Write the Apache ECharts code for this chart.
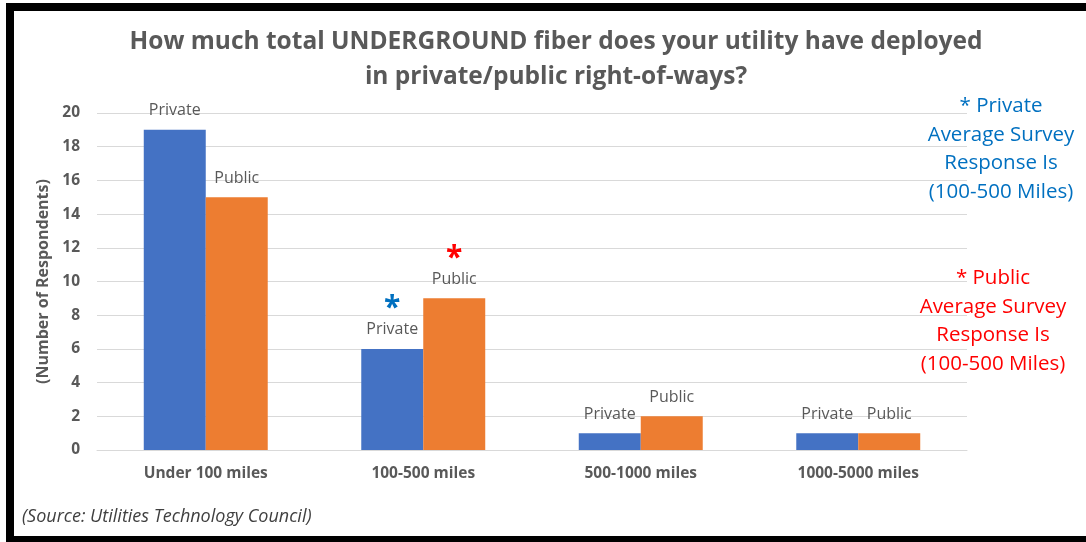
<!DOCTYPE html>
<html>
<head>
<meta charset="utf-8">
<script src="https://cdn.jsdelivr.net/npm/echarts@6/dist/echarts.min.js"></script>
<style>
  html, body { margin: 0; padding: 0; background: #fff; overflow: hidden; }
  #chart { width: 1086px; height: 542px; }
</style>
</head>
<body>
<div id="chart"></div>
<script>
// Deployment bands
const categories = ['Under 100 miles', '100-500 miles', '500-1000 miles', '1000-5000 miles'];
// Respondent counts
const privateValues = [19, 6, 1, 1];
const publicValues = [15, 9, 2, 1];
// Y axis ticks
const yTicks = [0, 2, 4, 6, 8, 10, 12, 14, 16, 18, 20];
// Band that holds the average response
const averageIndex = 1;

const FONT = '"Open Sans", "Liberation Sans", sans-serif';
const GRAY = '#595959';

const chart = echarts.init(document.getElementById('chart'), null, { renderer: 'canvas' });

function barLabel(name, starStyle) {
  return function (p) {
    return p.dataIndex === averageIndex ? '{' + starStyle + '|*}\n' + name : name;
  };
}

const labelRich = {
  blueStar: { color: '#0070c0', fontSize: 30, fontWeight: 'bold', lineHeight: 30, fontFamily: FONT, padding: [0, 0, -4, 0] },
  redStar: { color: '#ff0000', fontSize: 30, fontWeight: 'bold', lineHeight: 30, fontFamily: FONT, padding: [0, 0, -4, 0] }
};

chart.setOption({
  animation: false,
  backgroundColor: '#ffffff',
  title: {
    text: 'How much total UNDERGROUND fiber does your utility have deployed\nin private/public right-of-ways?',
    left: 551,
    top: 20,
    textAlign: 'center',
    textStyle: { color: GRAY, fontSize: 24.5, fontWeight: 'bold', fontFamily: FONT, lineHeight: 35 }
  },
  grid: { left: 97, right: 119, top: 113, bottom: 92, containLabel: false },
  xAxis: {
    type: 'category',
    data: categories,
    axisTick: { show: false },
    axisLine: { lineStyle: { color: '#d9d9d9', width: 1 } },
    axisLabel: { color: GRAY, fontSize: 15.5, fontWeight: 'bold', fontFamily: FONT, margin: 16 }
  },
  yAxis: {
    type: 'value',
    min: yTicks[0],
    max: yTicks[yTicks.length - 1],
    interval: yTicks[1] - yTicks[0],
    name: '(Number of Respondents)',
    nameLocation: 'middle',
    nameGap: 45,
    nameRotate: 90,
    nameTextStyle: { color: GRAY, fontSize: 16, fontWeight: 'bold', fontFamily: FONT },
    axisLine: { show: false },
    axisTick: { show: false },
    axisLabel: { color: GRAY, fontSize: 15.5, fontWeight: 'bold', fontFamily: FONT, margin: 17 },
    splitLine: { lineStyle: { color: '#d9d9d9', width: 1 } }
  },
  series: [
    {
      name: 'Private',
      type: 'bar',
      data: privateValues,
      barGap: '0%',
      barCategoryGap: '43%',
      itemStyle: { color: '#4472c4' },
      label: {
        show: true, position: 'top', distance: 11,
        color: GRAY, fontSize: 16, fontFamily: FONT,
        formatter: barLabel('Private', 'blueStar'),
        rich: labelRich
      }
    },
    {
      name: 'Public',
      type: 'bar',
      data: publicValues,
      itemStyle: { color: '#ed7d31' },
      label: {
        show: true, position: 'top', distance: 11,
        color: GRAY, fontSize: 16, fontFamily: FONT,
        formatter: barLabel('Public', 'redStar'),
        rich: labelRich
      }
    }
  ],
  graphic: [
    // frame
    { type: 'rect', shape: { x: 6, y: 3, width: 1080, height: 8 }, style: { fill: '#000' } },
    { type: 'rect', shape: { x: 6, y: 3, width: 8, height: 539 }, style: { fill: '#000' } },
    { type: 'rect', shape: { x: 6, y: 536, width: 1080, height: 6 }, style: { fill: '#000' } },
    // notes on the average response
    {
      type: 'text', x: 1001, y: 92, z: 10,
      style: {
        text: '* Private\nAverage Survey\nResponse Is\n(100-500 Miles)',
        fill: '#0070c0', font: '20.5px ' + FONT, lineHeight: 28.5, align: 'center'
      }
    },
    {
      type: 'text', x: 993, y: 264, z: 10,
      style: {
        text: '* Public\nAverage Survey\nResponse Is\n(100-500 Miles)',
        fill: '#ff0000', font: '20.5px ' + FONT, lineHeight: 28.5, align: 'center'
      }
    },
    {
      type: 'text', x: 22, y: 508,
      style: {
        text: '(Source: Utilities Technology Council)',
        fill: '#404040', font: 'italic 18px ' + FONT
      }
    }
  ]
});
</script>
</body>
</html>
